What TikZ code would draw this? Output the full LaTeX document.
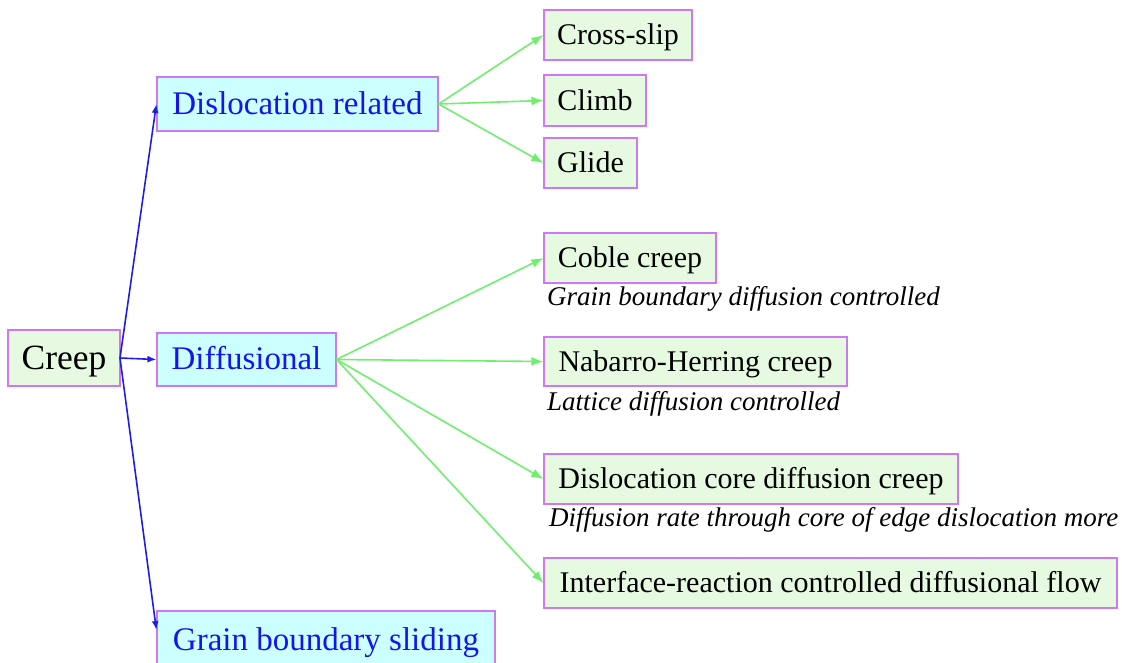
\documentclass[tikz,border=0pt]{standalone}
\usepackage{fontspec}
\setmainfont{Liberation Serif}
\usetikzlibrary{arrows.meta}
\definecolor{boxline}{RGB}{208,120,240}
\definecolor{leafgreen}{RGB}{230,250,225}
\definecolor{midcyan}{RGB}{204,255,255}
\definecolor{textblue}{RGB}{20,20,240}
\definecolor{linegreen}{RGB}{110,240,110}
\definecolor{lineblue}{RGB}{30,30,230}
\tikzset{
  boxbase/.style={draw=boxline, line width=1.2pt, inner sep=0pt, anchor=center},
  leaf/.style={boxbase, fill=leafgreen, font=\fontsize{30}{32}\selectfont, text height=22pt, text depth=3pt},
  midbox/.style={boxbase, fill=midcyan, text=textblue, font=\fontsize{33}{35}\selectfont, text height=24pt, text depth=4pt},
  rootbox/.style={boxbase, fill=leafgreen, font=\fontsize{35.5}{37}\selectfont, text height=26pt, text depth=4pt},
  note/.style={anchor=west, inner sep=0pt, font=\fontsize{27}{29}\selectfont\itshape},
  bluearrow/.style={draw=lineblue, line width=1.6pt, -{Latex[length=9pt,width=7pt]}},
  greenarrow/.style={draw=linegreen, line width=1.6pt, -{Latex[length=12pt,width=9pt]}}
}
\begin{document}
\begin{tikzpicture}[x=1pt,y=-1pt]
\useasboundingbox (0,0) rectangle (1122,662);
\node[rootbox, minimum width=112pt, minimum height=56pt] (creep) at (64,358) {Creep};
\node[midbox, minimum width=281pt, minimum height=54pt] (dis) at (297.5,104) {Dislocation related};
\node[midbox, minimum width=179pt, minimum height=53pt] (dif) at (246.5,359.5) {Diffusional};
\node[midbox, minimum width=338pt, minimum height=58pt] (gbs) at (326,640) {Grain boundary sliding};
\node[leaf, minimum width=148pt, minimum height=50pt] (cross) at (618,35) {Cross-slip};
\node[leaf, minimum width=102pt, minimum height=51pt] (climb) at (595,100.5) {Climb};
\node[leaf, minimum width=93pt, minimum height=50pt] (glide) at (590.5,163) {Glide};
\node[leaf, minimum width=172pt, minimum height=50pt] (coble) at (630,258) {Coble creep};
\node[leaf, minimum width=303pt, minimum height=49pt] (nh) at (695.5,361.5) {Nabarro-Herring creep};
\node[leaf, minimum width=414pt, minimum height=50pt] (dcore) at (751,479) {Dislocation core diffusion creep};
\node[leaf, minimum width=573pt, minimum height=50pt] (ifr) at (830.5,583) {Interface-reaction controlled diffusional flow};
\node[note] (n1) at (547,299) {Grain boundary diffusion controlled};
\node[note] (n2) at (547,404) {Lattice diffusion controlled};
\node[note] (n3) at (549,520) {Diffusion rate through core of edge dislocation more};
\coordinate (hub) at (120,358);
\draw[bluearrow] (hub) -- (dis.west);
\draw[bluearrow] (hub) -- (dif.west);
\draw[bluearrow] (hub) -- (gbs.west |- 0,630);
\draw[greenarrow] (dis.east) -- (cross.west);
\draw[greenarrow] (dis.east) -- (climb.west);
\draw[greenarrow] (dis.east) -- (glide.west);
\draw[greenarrow] (dif.east) -- (coble.west);
\draw[greenarrow] (dif.east) -- (nh.west);
\draw[greenarrow] (dif.east) -- (dcore.west);
\draw[greenarrow] (dif.east) -- (ifr.west);
\end{tikzpicture}
\end{document}
